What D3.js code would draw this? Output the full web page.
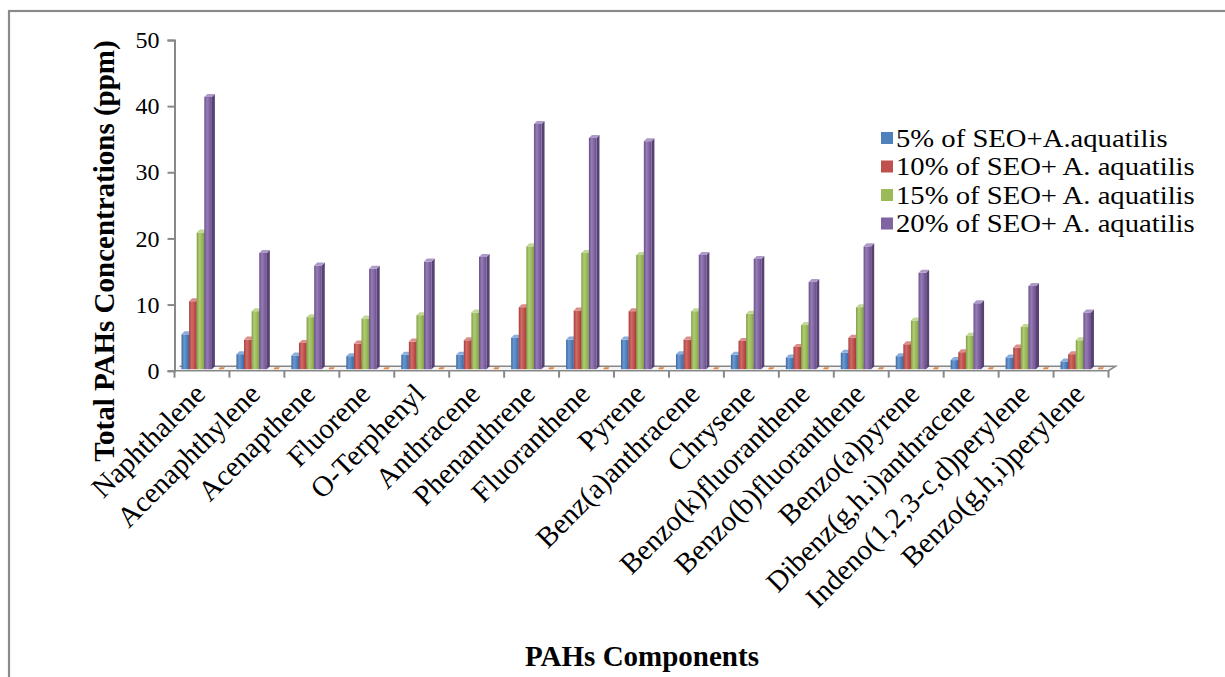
<!DOCTYPE html>
<html>
<head>
<meta charset="utf-8">
<script src="https://cdn.jsdelivr.net/npm/d3@7/dist/d3.min.js"></script>
<style>
  html, body { margin: 0; padding: 0; background: #fff; }
  svg { display: block; }
  text { font-family: "Liberation Serif", "Times New Roman", serif; fill: #000; }
</style>
</head>
<body>
<svg id="chart" width="1225" height="677"></svg>
<script>
// PAH components measured in the treated samples
const categories = [
  "Naphthalene", "Acenaphthylene", "Acenapthene", "Fluorene", "O-Terphenyl",
  "Anthracene", "Phenanthrene", "Fluoranthene", "Pyrene", "Benz(a)anthracene",
  "Chrysene", "Benzo(k)fluoranthene", "Benzo(b)fluoranthene", "Benzo(a)pyrene",
  "Dibenz(g,h.i)anthracene", "Indeno(1,2,3-c,d)perylene", "Benzo(g,h,i)perylene"
];

const seriesNames = [
  "5% of SEO+A.aquatilis",
  "10% of SEO+ A. aquatilis",
  "15% of SEO+ A. aquatilis",
  "20% of SEO+ A. aquatilis"
];

// concentrations in ppm
const seo5  = [5.5, 2.5, 2.3, 2.2, 2.4, 2.4, 5.0, 4.7, 4.7, 2.5, 2.4, 2.0, 2.7, 2.2, 1.6, 2.0, 1.4];
const seo10 = [10.5, 4.7, 4.2, 4.1, 4.4, 4.6, 9.6, 9.1, 9.0, 4.7, 4.5, 3.6, 5.0, 4.0, 2.8, 3.5, 2.5];
const seo15 = [20.9, 9.0, 8.1, 7.9, 8.4, 8.8, 18.8, 17.8, 17.5, 9.0, 8.6, 6.9, 9.6, 7.6, 5.3, 6.6, 4.6];
const seo20 = [41.4, 17.8, 15.9, 15.4, 16.5, 17.2, 37.3, 35.2, 34.7, 17.5, 16.9, 13.4, 18.8, 14.8, 10.2, 12.8, 8.8];
// an empty fifth series that only shows as flat caps on the floor
const series5 = [0, 0, 0, 0, 0, 0, 0, 0, 0, 0, 0, 0, 0, 0, 0, 0, 0];

const yTicks = [0, 10, 20, 30, 40, 50];

const seriesValues = [seo5, seo10, seo15, seo20];

const palette = [
  { base: "#4F81BD", light: "#6A98D0", dark: "#3B679E", side: "#2F5587", top: "#8AAEDB" },
  { base: "#C0504D", light: "#D26A67", dark: "#A23F3C", side: "#8A3330", top: "#DB8E8C" },
  { base: "#9BBB59", light: "#AFCB74", dark: "#809E45", side: "#6C873A", top: "#C2D896" },
  { base: "#8064A2", light: "#967CB6", dark: "#684F88", side: "#574273", top: "#AE9AC8" }
];
const orangeCap = "#E0884A";

const svg = d3.select("#chart");
const W = 1225, H = 677;

// outer frame
svg.append("rect")
  .attr("x", 9).attr("y", 11)
  .attr("width", W + 20).attr("height", H + 20)
  .attr("fill", "none").attr("stroke", "#8a8a8a").attr("stroke-width", 2.2);

const plot = { left: 174.5, right: 1108.5, top: 40, bottom: 370.7 };
const depth = 5;       // 3D floor depth (px, diagonal)
const barDepth = 3;    // side/top depth of each column

const x = d3.scaleBand()
  .domain(categories)
  .range([plot.left, plot.right])
  .paddingInner(0).paddingOuter(0);

const y = d3.scaleLinear()
  .domain([0, 50])
  .range([plot.bottom, plot.top]);

// gradients for the rounded column fronts
const defs = svg.append("defs");
palette.forEach((c, i) => {
  const g = defs.append("linearGradient")
    .attr("id", "grad" + i)
    .attr("x1", "0").attr("x2", "1").attr("y1", "0").attr("y2", "0");
  g.append("stop").attr("offset", "0%").attr("stop-color", c.dark);
  g.append("stop").attr("offset", "35%").attr("stop-color", c.light);
  g.append("stop").attr("offset", "70%").attr("stop-color", c.base);
  g.append("stop").attr("offset", "100%").attr("stop-color", c.dark);
});

const axisColor = "#888888";

// floor
const floorY = plot.bottom;
svg.append("path")
  .attr("d", `M${plot.left},${floorY} L${plot.right},${floorY} L${plot.right + depth + 2},${floorY - depth + 0.5} L${plot.left + depth},${floorY - depth + 0.5}`)
  .attr("fill", "#f4f4f4").attr("stroke", axisColor).attr("stroke-width", 1.6);

// y axis
const yAxis = d3.axisLeft(y).tickValues(yTicks).tickSize(7).tickPadding(8);
const gy = svg.append("g")
  .attr("transform", `translate(${plot.left},0)`)
  .call(yAxis);
gy.select(".domain").attr("stroke", axisColor).attr("stroke-width", 2);
gy.selectAll(".tick line").attr("stroke", axisColor).attr("stroke-width", 2);
gy.selectAll(".tick text")
  .attr("font-family", "Liberation Serif, serif")
  .attr("font-size", 24).attr("fill", "#000");

// x axis ticks at category boundaries
const boundaries = categories.map(c => x(c)).concat([plot.right]);
svg.append("g").selectAll("line")
  .data(boundaries)
  .join("line")
  .attr("x1", d => d).attr("x2", d => d)
  .attr("y1", floorY).attr("y2", floorY + 7)
  .attr("stroke", axisColor).attr("stroke-width", 2);

// columns
const bw = 7.6;
const firstOffset = 7;
const bars = svg.append("g");
categories.forEach((cat, ci) => {
  const b = x(cat);
  // flat cap of the empty series
  const ox = b + 44;
  const v5 = series5[ci];
  bars.append("path")
    .attr("d", `M${ox},${y(v5) - 1.5} L${ox + 5},${y(v5) - 1.5} L${ox + 6.5},${y(v5) - 3.5} L${ox + 1.5},${y(v5) - 3.5} Z`)
    .attr("fill", orangeCap);

  seriesValues.forEach((vals, si) => {
    const c = palette[si];
    const x0 = b + firstOffset + si * bw;
    const yt = y(vals[ci]);
    const yb = floorY - 1.5;
    // side
    bars.append("path")
      .attr("d", `M${x0 + bw},${yt} L${x0 + bw + barDepth},${yt - barDepth} L${x0 + bw + barDepth},${yb - barDepth} L${x0 + bw},${yb} Z`)
      .attr("fill", c.side);
    // front
    bars.append("rect")
      .attr("x", x0).attr("y", yt)
      .attr("width", bw).attr("height", yb - yt)
      .attr("fill", `url(#grad${si})`);
    // top
    bars.append("path")
      .attr("d", `M${x0},${yt} L${x0 + bw},${yt} L${x0 + bw + barDepth},${yt - barDepth} L${x0 + barDepth},${yt - barDepth} Z`)
      .attr("fill", c.top);
  });
});

// category labels, rotated
svg.append("g").selectAll("text")
  .data(categories)
  .join("text")
  .attr("transform", d => `translate(${x(d) + x.bandwidth() / 2 + 5},${floorY + 25}) rotate(-45)`)
  .attr("text-anchor", "end")
  .attr("font-size", 29)
  .text(d => d);

// axis titles
svg.append("text")
  .attr("transform", `translate(114,251) rotate(-90)`)
  .attr("text-anchor", "middle")
  .attr("font-size", 29).attr("font-weight", "bold")
  .text("Total PAHs Concentrations (ppm)");

svg.append("text")
  .attr("x", 642).attr("y", 666)
  .attr("text-anchor", "middle")
  .attr("font-size", 29).attr("font-weight", "bold")
  .text("PAHs Components");

// legend: wide-set serif text, tight row spacing
const legend = svg.append("g").attr("transform", "translate(881,132)");
seriesNames.forEach((name, i) => {
  const row = legend.append("g").attr("transform", `translate(0,${i * 28.5})`);
  row.append("rect").attr("x", 0).attr("y", 0).attr("width", 12).attr("height", 12)
    .attr("fill", palette[i].base);
  row.append("text")
    .attr("transform", "translate(15,14.5) scale(1.17,1)")
    .attr("font-size", 24.5).text(name);
});
</script>
</body>
</html>
